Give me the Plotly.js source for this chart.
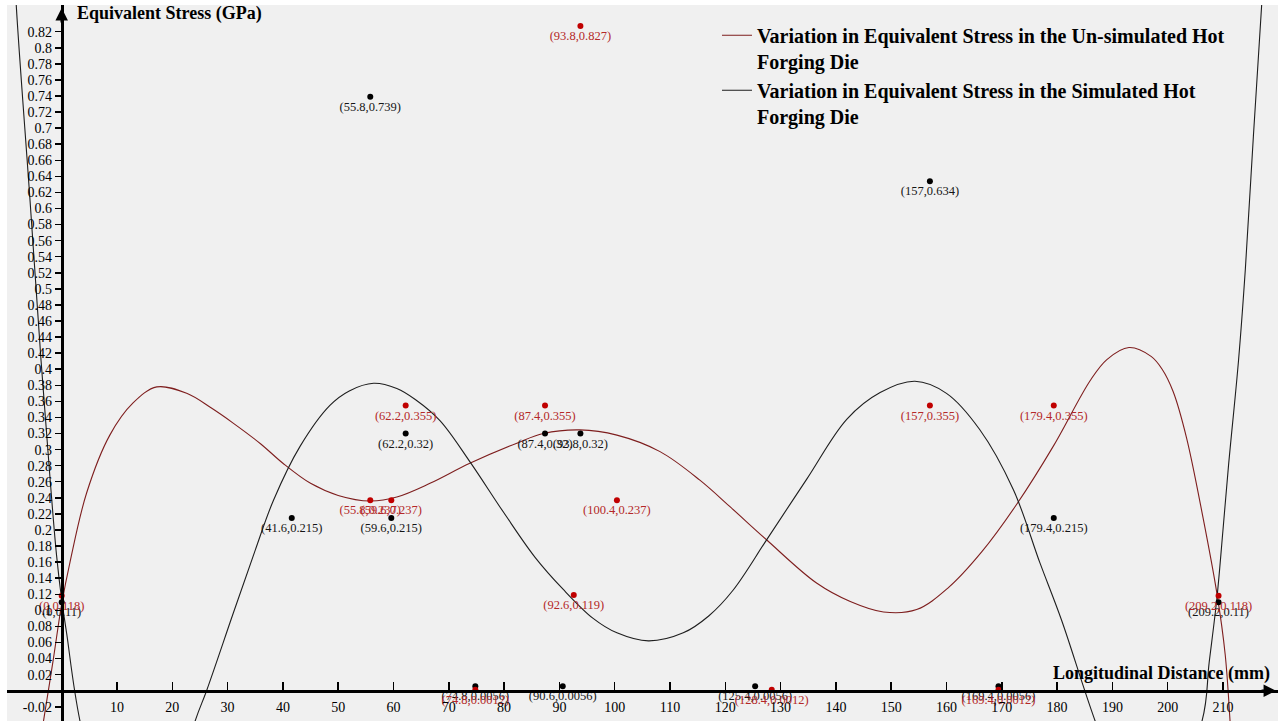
<!DOCTYPE html>
<html><head><meta charset="utf-8">
<script src="https://cdn.plot.ly/plotly-3.0.1.min.js"></script>
<style>html,body{margin:0;padding:0;background:#fff}#chart{width:1278px;height:721px}</style>
</head><body><div id="chart"></div>
<script>
// Data points (Un-simulated = red, Simulated = black)
const unsimX = [0, 55.8, 59.6, 62.2, 74.8, 87.4, 92.6, 93.8, 100.4, 128.4, 157, 169.4, 179.4, 209.2];
const unsimY = [0.118, 0.237, 0.237, 0.355, 0.0012, 0.355, 0.119, 0.827, 0.237, 0.0012, 0.355, 0.0012, 0.355, 0.118];
const simX = [0, 41.6, 55.8, 59.6, 62.2, 74.8, 87.4, 90.6, 93.8, 125.4, 157, 169.4, 179.4, 209.2];
const simY = [0.11, 0.215, 0.739, 0.215, 0.32, 0.0056, 0.32, 0.0056, 0.32, 0.0056, 0.634, 0.0056, 0.215, 0.11];

// Fitted curves
const unsimCurveX = [-4.5, -3.3, -1.5, 0, 1.5, 4.5, 8.7, 12.9, 17.2, 22.6, 27, 31, 36, 40, 45, 50, 55.8, 60.6, 66.6, 73.8, 82.3, 87.1, 93.7, 100.4, 108.2, 115.4, 121, 127.5, 136.5, 142.6, 148.6, 154.6, 160.3, 166.4, 172.7, 179.3, 186, 189, 193, 197, 199, 201, 203.4, 206.4, 208.9, 210.4, 211.3, 212];
const unsimCurveY = [-0.09, -0.038, 0.04, 0.108, 0.16, 0.246, 0.318, 0.358, 0.378, 0.370, 0.352, 0.333, 0.307, 0.283, 0.258, 0.243, 0.236, 0.241, 0.258, 0.283, 0.308, 0.320, 0.3245, 0.318, 0.2975, 0.262, 0.228, 0.1875, 0.134, 0.111, 0.098, 0.101, 0.128, 0.173, 0.232, 0.304, 0.386, 0.412, 0.427, 0.416, 0.400, 0.372, 0.315, 0.215, 0.121, 0.045, -0.04, -0.12];
const simCurveX = [-8.6, -8.27, -5.73, -3.74, -2.12, -0.94, 0, 0.9, 3.31, 13, 24.11, 26.2, 31, 35, 38.3, 43.1, 48.5, 52, 56.4, 60.6, 64, 68.4, 73.8, 79.9, 85.6, 90.7, 96.1, 100.4, 106.1, 112.4, 117, 121.4, 127.5, 134.7, 142, 148, 154.3, 160, 166, 172.1, 176.9, 180.8, 186.9, 196, 206.2, 207.5, 208.9, 210, 211, 212.8, 214.05, 215.5, 217.05, 217.6];
const simCurveY = [0.92, 0.859, 0.610, 0.411, 0.265, 0.169, 0.113, 0.071, -0.038, -0.3, -0.038, 0, 0.096, 0.175, 0.237, 0.304, 0.355, 0.373, 0.3825, 0.376, 0.362, 0.336, 0.285, 0.222, 0.166, 0.126, 0.09, 0.072, 0.062, 0.072, 0.093, 0.125, 0.188, 0.263, 0.338, 0.371, 0.385, 0.37, 0.325, 0.25, 0.159, 0.088, -0.038, -0.2, -0.038, 0.035, 0.115, 0.2, 0.28, 0.41, 0.525, 0.69, 0.859, 0.93];

// Tick labels
const xTickVals = [10, 20, 30, 40, 50, 60, 70, 80, 90, 100, 110, 120, 130, 140, 150, 160, 170, 180, 190, 200, 210];
const xTickText = ['10','20','30','40','50','60','70','80','90','100','110','120','130','140','150','160','170','180','190','200','210'];
const yTickVals = [-0.02, 0.02, 0.04, 0.06, 0.08, 0.1, 0.12, 0.14, 0.16, 0.18, 0.2, 0.22, 0.24, 0.26, 0.28, 0.3, 0.32, 0.34, 0.36, 0.38, 0.4, 0.42, 0.44, 0.46, 0.48, 0.5, 0.52, 0.54, 0.56, 0.58, 0.6, 0.62, 0.64, 0.66, 0.68, 0.7, 0.72, 0.74, 0.76, 0.78, 0.8, 0.82];
const yTickText = ['-0.02','0.02','0.04','0.06','0.08','0.1','0.12','0.14','0.16','0.18','0.2','0.22','0.24','0.26','0.28','0.3','0.32','0.34','0.36','0.38','0.4','0.42','0.44','0.46','0.48','0.5','0.52','0.54','0.56','0.58','0.6','0.62','0.64','0.66','0.68','0.7','0.72','0.74','0.76','0.78','0.8','0.82'];

const seriesNames = [
  'Variation in Equivalent Stress in the Un-simulated Hot<br>Forging Die',
  'Variation in Equivalent Stress in the Simulated Hot<br>Forging Die'
];

const FONT = 'Liberation Serif, Times New Roman, serif';
const RED_LINE = '#7e1e1e', RED_PT = '#c00000', RED_TXT = '#b42828';
const BLK_LINE = '#1e1e1e', BLK_PT = '#000000', BLK_TXT = '#151515';

const lbl = (xs, ys) => xs.map((x, i) => '(' + x + ',' + ys[i] + ')');

const traces = [
  {x: unsimCurveX, y: unsimCurveY, mode: 'lines', name: seriesNames[0],
   line: {color: RED_LINE, width: 1.1, shape: 'spline', smoothing: 1}, hoverinfo: 'skip'},
  {x: simCurveX, y: simCurveY, mode: 'lines', name: seriesNames[1],
   line: {color: BLK_LINE, width: 1.1, shape: 'spline', smoothing: 1}, hoverinfo: 'skip'},
  {x: simX, y: simY, mode: 'markers+text', showlegend: false, text: lbl(simX, simY),
   textposition: 'bottom center', textfont: {family: FONT, size: 12.5, color: BLK_TXT},
   marker: {color: BLK_PT, size: 6}, cliponaxis: false},
  {x: unsimX, y: unsimY, mode: 'markers+text', showlegend: false, text: lbl(unsimX, unsimY),
   textposition: 'bottom center', textfont: {family: FONT, size: 12.5, color: RED_TXT},
   marker: {color: RED_PT, size: 6}, cliponaxis: false}
];

const xRange = [-9.894, 219.95];
const yRange = [-0.0377, 0.8532];

const layout = {
  width: 1278, height: 721,
  margin: {l: 7, r: 0, t: 5, b: 0, pad: 0},
  paper_bgcolor: '#ffffff', plot_bgcolor: '#f0f0f0',
  showlegend: true,
  legend: {x: 0.5586, y: 0.985, xanchor: 'left', yanchor: 'top', bgcolor: 'rgba(0,0,0,0)',
           font: {family: FONT, size: 20, weight: 'bold', color: '#000'}, itemwidth: 30,
           valign: 'top', tracegroupgap: 4},
  xaxis: {range: xRange, anchor: 'free', position: 0.0423, showgrid: false, zeroline: false,
          showline: true, linecolor: '#000', linewidth: 3, ticks: 'inside', ticklen: 8, tickwidth: 1.5,
          tickcolor: '#000', tickmode: 'array', tickvals: xTickVals, ticktext: xTickText,
          tickfont: {family: FONT, size: 14, color: '#000'}, ticklabelstandoff: 2, automargin: false, fixedrange: true},
  yaxis: {range: yRange, anchor: 'free', position: 0.04304, showgrid: false, zeroline: false,
          showline: true, linecolor: '#000', linewidth: 3, ticks: 'outside', ticklen: 6, tickwidth: 1.5,
          tickcolor: '#000', tickmode: 'array', tickvals: yTickVals, ticktext: yTickText,
          tickfont: {family: FONT, size: 14, color: '#000'}, automargin: false, fixedrange: true},
  yaxis2: {range: yRange, overlaying: 'y', anchor: 'free', position: 0.04304, showgrid: false, zeroline: false,
           showline: false, ticks: 'inside', ticklen: 6, tickwidth: 1.5, tickcolor: '#000',
           tickmode: 'array', tickvals: yTickVals, showticklabels: false, automargin: false, fixedrange: true},
  annotations: [
    {x: 0, y: 0.8495, xref: 'x', yref: 'y', ax: 0, ay: 16, showarrow: true, arrowhead: 2,
     arrowsize: 1, arrowwidth: 2.5, arrowcolor: '#000', text: ''},
    {x: 219.6, y: 0, xref: 'x', yref: 'y', ax: -16, ay: 0, showarrow: true, arrowhead: 2,
     arrowsize: 1, arrowwidth: 2.5, arrowcolor: '#000', text: ''},
    {x: 2.4, y: 0.843, xref: 'x', yref: 'y', xanchor: 'left', yanchor: 'middle', showarrow: false,
     text: 'Equivalent Stress (GPa)', font: {family: FONT, size: 18, weight: 'bold', color: '#000'}},
    {x: 218.8, y: 0.022, xref: 'x', yref: 'y', xanchor: 'right', yanchor: 'middle', showarrow: false,
     text: 'Longitudinal Distance (mm)', font: {family: FONT, size: 18, weight: 'bold', color: '#000'}}
  ]
};

Plotly.newPlot('chart', traces, layout, {staticPlot: true, displayModeBar: false});
</script>
</body></html>
